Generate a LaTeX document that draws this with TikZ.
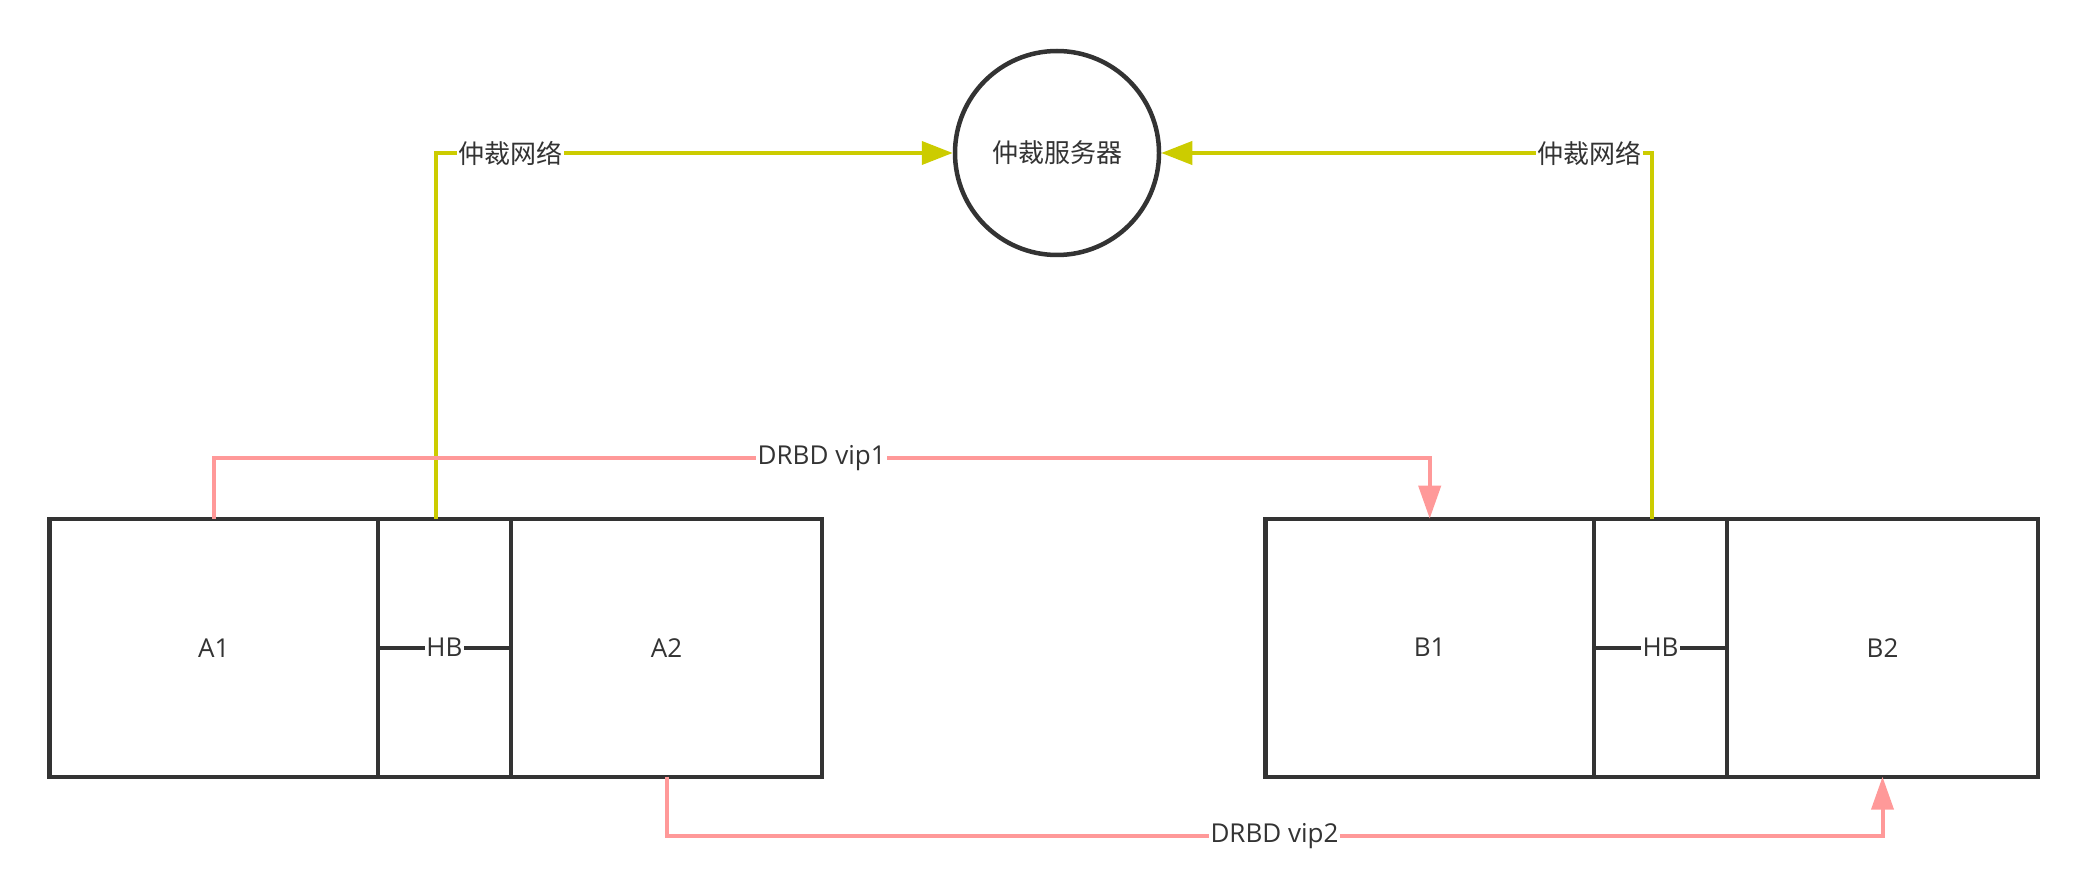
\documentclass[tikz,border=0pt]{standalone}
\usepackage{fontspec}
\setmainfont{Open Sans}
\newfontfamily\cjk{Noto Sans CJK SC}
\usetikzlibrary{arrows.meta,calc}
\definecolor{ink}{HTML}{333333}
\definecolor{drbd}{HTML}{FF9999}
\definecolor{arb}{HTML}{CCCC00}
\begin{document}
\begin{tikzpicture}[x=1pt,y=-1pt,
  font=\fontsize{26}{31}\selectfont, text=ink,
  cell/.style={draw=ink, line width=4.2pt, minimum height=258pt, inner sep=0pt, outer sep=0pt},
  lbl/.style={fill=white, inner sep=1.5pt, text=ink},
  arbline/.style={draw=arb, line width=4pt, -{Triangle[length=31pt,width=23pt]}},
  drbdline/.style={draw=drbd, line width=4pt, -{Triangle[length=33pt,width=22pt]}},
  hbline/.style={draw=ink, line width=4.2pt}]
\useasboundingbox (0,0) rectangle (2088,885);
% left group
\node[cell, minimum width=328.6pt] (A1) at (213.7,647.7) {A1};
\node[cell, minimum width=133pt] (HBa) at (444.5,647.7) {};
\node[cell, minimum width=311pt] (A2) at (666.5,647.7) {A2};
% right group
\node[cell, minimum width=328.6pt] (B1) at (1429.7,647.7) {B1};
\node[cell, minimum width=133pt] (HBb) at (1660.5,647.7) {};
\node[cell, minimum width=311pt] (B2) at (1882.5,647.7) {B2};
% arbitration server
\node[circle, draw=ink, line width=4.5pt, minimum size=204pt, inner sep=0pt] (server) at (1057,153) {\cjk 仲裁服务器};
% heartbeat
\draw[hbline] (A1.east) -- node[lbl]{HB} (A2.west);
\draw[hbline] (B1.east) -- node[lbl]{HB} (B2.west);
% arbitration network
\draw[arbline] ([xshift=58pt]HBa.north west) |- node[lbl, pos=0.5725]{\cjk 仲裁网络} (server.west);
\draw[arbline] ([xshift=58pt]HBb.north west) |- node[lbl, pos=0.564]{\cjk 仲裁网络} (server.east);
% DRBD
\draw[drbdline] (A1.north) -- ([yshift=61pt]A1.north) -| node[lbl, pos=0.25]{DRBD vip1} (B1.north);
\draw[drbdline] (A2.south) -- ([yshift=-59pt]A2.south) -| node[lbl, pos=0.25]{DRBD vip2} (B2.south);
\end{tikzpicture}
\end{document}
